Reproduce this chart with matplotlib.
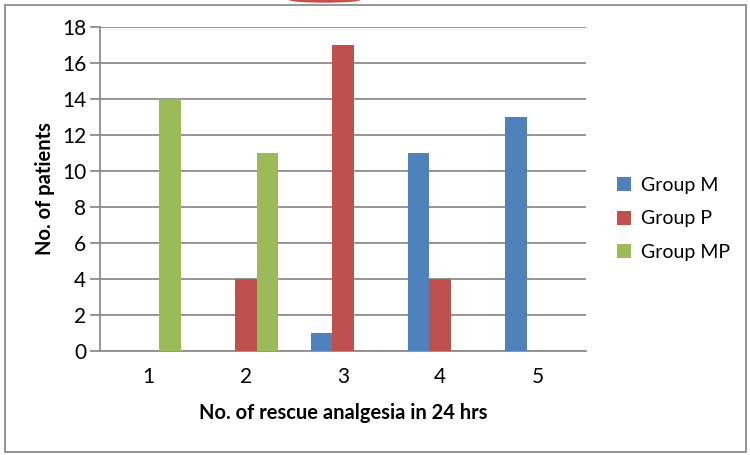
import matplotlib.pyplot as plt
import matplotlib.patches as mpatches
import numpy as np

plt.rcParams['font.family'] = ['Lato', 'DejaVu Sans']

categories = ['1', '2', '3', '4', '5']
group_m = [0, 0, 1, 11, 13]
group_p = [0, 4, 17, 4, 0]
group_mp = [14, 11, 0, 0, 0]
series_names = ['Group M', 'Group P', 'Group MP']
colors = ['#4F81BD', '#C0504D', '#9BBB59']

fig = plt.figure(figsize=(7.5, 4.55), dpi=100)
ax = fig.add_axes([0.1333, 0.2292, 0.648, 0.7115])

x = np.arange(len(categories))
w = 1 / 4.5
for i, (vals, name, c) in enumerate(zip([group_m, group_p, group_mp], series_names, colors)):
    ax.bar(x + (i - 1) * w, vals, width=w, color=c, label=name, zorder=3)

ax.set_xlim(-0.5, len(categories) - 0.5)
ax.set_ylim(0, 18)
ax.set_yticks(range(0, 19, 2))
ax.set_xticks(x)
ax.set_xticklabels(categories)
ax.yaxis.grid(True, color='#8c8c8c', lw=1.3, zorder=0)
for s in ['top', 'right']:
    ax.spines[s].set_visible(False)
for s in ['left', 'bottom']:
    ax.spines[s].set_color('#8c8c8c')
    ax.spines[s].set_linewidth(1.3)
ax.tick_params(axis='y', length=7, color='#8c8c8c', width=1.3, labelsize=15, pad=3)
ax.tick_params(axis='x', length=0, labelsize=15, pad=12)

ax.set_xlabel('No. of rescue analgesia in 24 hrs', fontsize=14.5, fontweight='bold', labelpad=11)
ax.set_ylabel('No. of patients', fontsize=14.5, fontweight='bold', labelpad=5)

ax.legend(loc='center left', bbox_to_anchor=(0.812, 0.5187), bbox_transform=fig.transFigure,
          frameon=False, fontsize=14, borderaxespad=0,
          handlelength=0.75, handleheight=0.75, handletextpad=0.5, labelspacing=0.85)

# outer frame
fig.patches.append(mpatches.Rectangle((0.006, 0.006), 0.988, 0.982, transform=fig.transFigure,
                                      fill=False, edgecolor='#8c8c8c', lw=1.3))
# red arc at top edge
fig.patches.append(mpatches.Ellipse((0.433, 1.0), 0.095, 0.012, transform=fig.transFigure,
                                    facecolor='#c8504c', edgecolor='none'))

fig.savefig('out.png', dpi=100)
